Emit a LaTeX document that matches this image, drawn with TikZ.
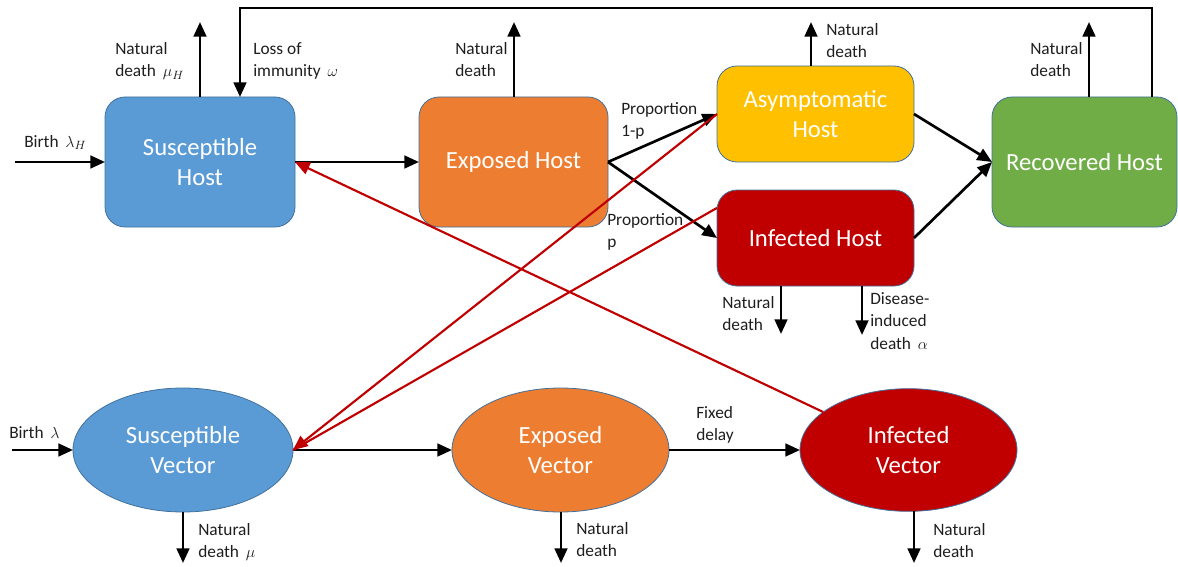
\documentclass[tikz,border=0pt]{standalone}
\usepackage{fontspec}
\setmainfont{Carlito}
\usetikzlibrary{arrows.meta,shapes.geometric}
\definecolor{cblue}{HTML}{5B9BD5}
\definecolor{corange}{HTML}{ED7D31}
\definecolor{cgold}{HTML}{FFC000}
\definecolor{cred}{HTML}{C00000}
\definecolor{cgreen}{HTML}{70AD47}
\definecolor{cborder}{HTML}{41719C}
\definecolor{ctext}{HTML}{1E1E1E}
\tikzset{
  box/.style={draw=cborder, line width=0.6pt, rounded corners=15pt, text=white,
    align=center, inner sep=0pt, outer sep=0pt,
    font=\fontsize{18.5}{22.5}\selectfont},
  oval/.style={ellipse, draw=cborder, line width=0.6pt, text=white, align=center,
    inner sep=0pt, outer sep=0pt, font=\fontsize{18.5}{22.5}\selectfont},
  lbl/.style={anchor=north west, align=left, inner sep=0pt, text=ctext,
    font=\fontsize{13}{17}\selectfont},
  arr/.style={line width=2pt, -{Triangle[length=11pt,width=9.5pt]}},
  redarr/.style={line width=1.6pt, draw=cred, -{Triangle[length=11pt,width=9.5pt]}, color=cred},
  redline/.style={line width=1.6pt, draw=cred}
}
\begin{document}
\begin{tikzpicture}[x=0.75pt,y=-0.75pt]
\useasboundingbox (0,0) rectangle (1178,567);
% host boxes
\node[box, fill=cblue, minimum width=142.5pt, minimum height=97.5pt] (SH) at (200,162) {Susceptible\\Host};
\node[box, fill=corange, minimum width=141.75pt, minimum height=97.5pt] (EH) at (513.5,162) {Exposed Host};
\node[box, fill=cgold, minimum width=147.75pt, minimum height=72pt] (AH) at (815.5,114) {Asymptomatic\\Host};
\node[box, fill=cred, minimum width=147.75pt, minimum height=72pt] (IH) at (815.5,238) {Infected Host};
\node[box, fill=cgreen, minimum width=138.75pt, minimum height=97.5pt] (RH) at (1084.5,162) {Recovered Host};
% vector ellipses
\node[oval, fill=cblue, minimum width=165pt, minimum height=93pt] (SV) at (183,450) {Susceptible\\Vector};
\node[oval, fill=corange, minimum width=162.75pt, minimum height=93pt] (EV) at (560.5,450) {Exposed\\Vector};
\node[oval, fill=cred, minimum width=162.75pt, minimum height=92pt] (IV) at (908.5,450) {Infected\\Vector};
% free ends
\coordinate (bH) at (15,162);
\coordinate (dSH) at (200,22);
\coordinate (lA) at (1152,8);
\coordinate (lB) at (240,8);
\coordinate (dEH) at (514,22);
\coordinate (dAH) at (811,22);
\coordinate (dRH) at (1089,22);
\coordinate (dIH) at (781,334);
\coordinate (aIH) at (862,335);
\coordinate (bV) at (12,450);
\coordinate (dSV) at (183,563);
\coordinate (dEV) at (561,563);
\coordinate (dIV) at (914,563);
% black connectors
\draw[arr] (bH) -- (SH.west);
\draw[arr] (SH.north -| dSH) -- (dSH);
\draw[arr] (RH.north -| lA) -- (lA) -- (lB) -- (SH.north -| lB);
\draw[arr] (SH.east) -- (EH.west);
\draw[arr] (EH.north -| dEH) -- (dEH);
\draw[arr] (EH.east) -- (AH.west);
\draw[arr] (EH.east) -- (IH.west);
\draw[arr] (AH.north -| dAH) -- (dAH);
\draw[arr] (AH.east) -- (RH.west);
\draw[arr] (IH.east) -- (RH.west);
\draw[arr] (RH.north -| dRH) -- (dRH);
\draw[arr] (IH.south -| dIH) -- (dIH);
\draw[arr] (IH.south -| aIH) -- (aIH);
\draw[arr] (bV) -- (SV.west);
\draw[arr] (SV.east) -- (EV.west);
\draw[arr] (EV.east) -- (IV.west);
\draw[arr] (SV.south -| dSV) -- (dSV);
\draw[arr] (EV.south -| dEV) -- (dEV);
\draw[arr] (IV.south -| dIV) -- (dIV);
% red connectors
\draw[redarr] (IV.156) -- (SH.east);
\draw[redline] (IH.163) -- (SV.east);
\draw[redarr] (AH.west) -- (SV.east);
% labels
\node[lbl] (l1) at (115,42) {Natural\\death \,$\mu_H$};
\node[lbl] (l2) at (253,42) {Loss of\\immunity \,$\omega$};
\node[lbl] (l3) at (24,135) {Birth \,$\lambda_H$};
\node[lbl] (l4) at (455,42) {Natural\\death};
\node[lbl] (l5) at (621,102) {Proportion\\1-p};
\node[lbl] (l6) at (607,213) {Proportion\\p};
\node[lbl] (l7) at (826,23) {Natural\\death};
\node[lbl] (l8) at (1030,42) {Natural\\death};
\node[lbl] (l9) at (722,296) {Natural\\death};
\node[lbl] (l10) at (870,292) {Disease-\\induced\\death \,$\alpha$};
\node[lbl] (l11) at (9,426) {Birth \,$\lambda$};
\node[lbl] (l12) at (198,523) {Natural\\death \,$\mu$};
\node[lbl] (l13) at (696,406) {Fixed\\delay};
\node[lbl] (l14) at (576,522) {Natural\\death};
\node[lbl] (l15) at (933,523) {Natural\\death};
\end{tikzpicture}
\end{document}
